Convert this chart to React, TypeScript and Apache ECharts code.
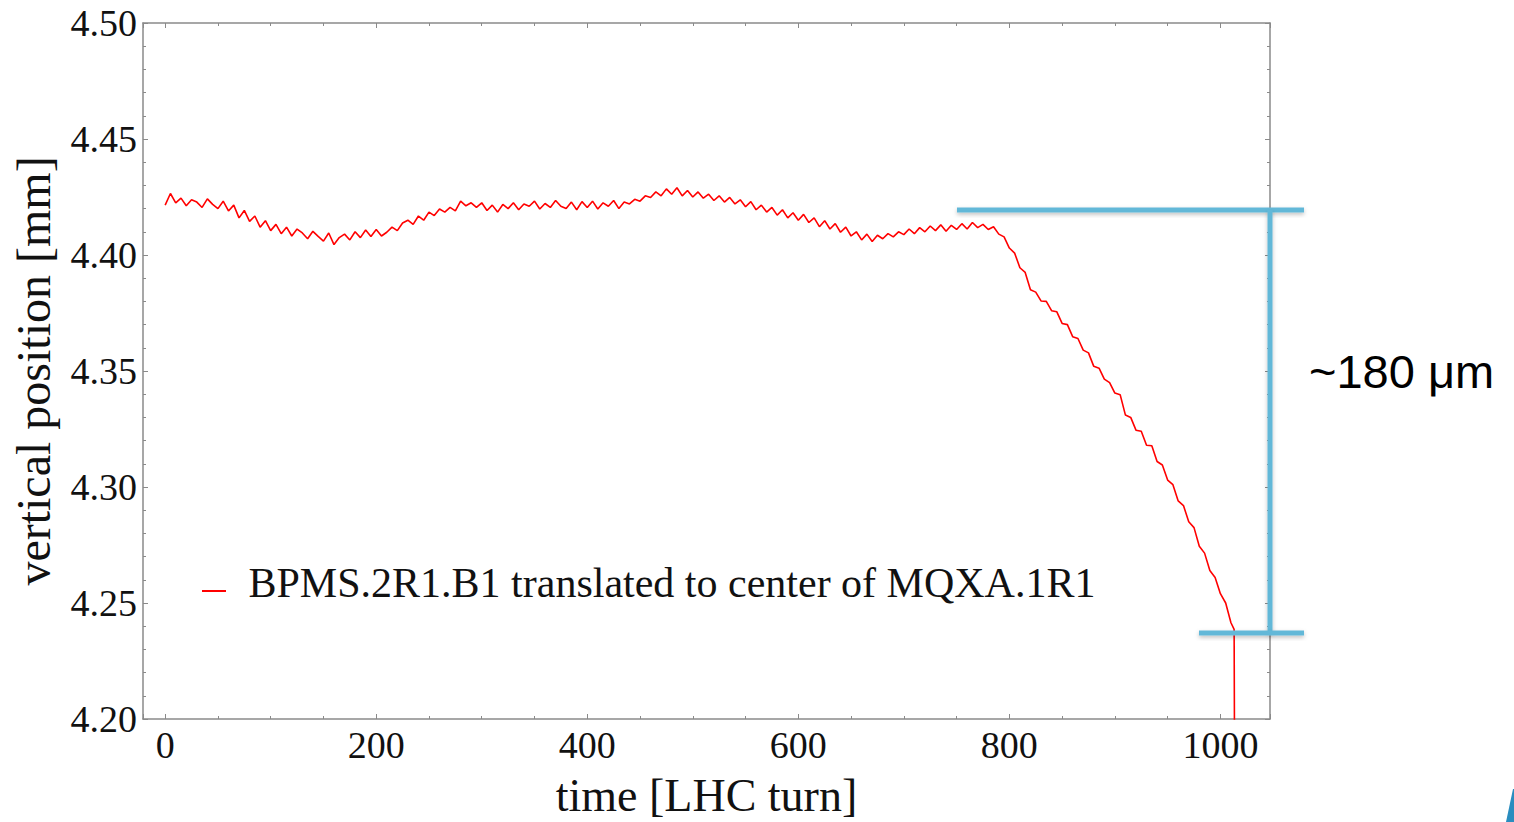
import React, { useEffect, useRef } from "react";
import * as echarts from "echarts";

const seriesName = "BPMS.2R1.B1 translated to center of MQXA.1R1";
const xTitle = "time [LHC turn]";
const yTitle = "vertical position [mm]";
const annotationText = "~180 μm";

const turns = [
  0, 5, 10, 15, 20, 25, 30, 35, 40, 45, 50, 55, 60, 65, 70, 75, 80, 85, 90, 95,
  100, 105, 110, 115, 120, 125, 130, 135, 140, 145, 150, 155, 160, 165, 170, 175, 180, 185, 190, 195,
  200, 205, 210, 215, 220, 225, 230, 235, 240, 245, 250, 255, 260, 265, 270, 275, 280, 285, 290, 295,
  300, 305, 310, 315, 320, 325, 330, 335, 340, 345, 350, 355, 360, 365, 370, 375, 380, 385, 390, 395,
  400, 405, 410, 415, 420, 425, 430, 435, 440, 445, 450, 455, 460, 465, 470, 475, 480, 485, 490, 495,
  500, 505, 510, 515, 520, 525, 530, 535, 540, 545, 550, 555, 560, 565, 570, 575, 580, 585, 590, 595,
  600, 605, 610, 615, 620, 625, 630, 635, 640, 645, 650, 655, 660, 665, 670, 675, 680, 685, 690, 695,
  700, 705, 710, 715, 720, 725, 730, 735, 740, 745, 750, 755, 760, 765, 770, 775, 780, 785, 790, 795,
  800, 805, 810, 815, 820, 825, 830, 835, 840, 845, 850, 855, 860, 865, 870, 875, 880, 885, 890, 895,
  900, 905, 910, 915, 920, 925, 930, 935, 940, 945, 950, 955, 960, 965, 970, 975, 980, 985, 990, 995,
  1000, 1005, 1010, 1013, 1014,
];

const position = [
  4.4215, 4.4265, 4.4225, 4.4245, 4.4212, 4.4238, 4.4228, 4.4205, 4.4242, 4.4218, 4.42, 4.4232, 4.419, 4.4215, 4.416, 4.4192, 4.4145, 4.4168, 4.412, 4.4148,
  4.4105, 4.4132, 4.4092, 4.412, 4.4082, 4.4112, 4.4095, 4.407, 4.4102, 4.408, 4.406, 4.4095, 4.4045, 4.4075, 4.409, 4.4065, 4.41, 4.4075, 4.4108, 4.408,
  4.411, 4.4082, 4.4098, 4.412, 4.4105, 4.4138, 4.415, 4.4132, 4.4168, 4.415, 4.4185, 4.417, 4.4198, 4.4185, 4.4205, 4.419, 4.4232, 4.4212, 4.4225, 4.4205,
  4.4225, 4.4192, 4.4215, 4.4185, 4.4218, 4.42, 4.4225, 4.4195, 4.422, 4.421, 4.4232, 4.4198, 4.4222, 4.4205, 4.4235, 4.421, 4.42, 4.4228, 4.4195, 4.423,
  4.4205, 4.4232, 4.4198, 4.4225, 4.421, 4.4235, 4.42, 4.4228, 4.422, 4.424, 4.4232, 4.4255, 4.4248, 4.4272, 4.4255, 4.4285, 4.4262, 4.429, 4.4255, 4.4278,
  4.425, 4.4272, 4.4245, 4.4262, 4.4235, 4.4255, 4.4228, 4.4248, 4.422, 4.4238, 4.4208, 4.423, 4.4195, 4.4215, 4.4185, 4.4205, 4.4172, 4.4195, 4.416, 4.4182,
  4.415, 4.4175, 4.414, 4.416, 4.4122, 4.4148, 4.4112, 4.4135, 4.4098, 4.412, 4.4082, 4.41, 4.4065, 4.409, 4.4058, 4.4085, 4.407, 4.4092, 4.4078, 4.41,
  4.4088, 4.4112, 4.4092, 4.4118, 4.41, 4.4125, 4.4105, 4.413, 4.4102, 4.4128, 4.411, 4.4135, 4.4112, 4.414, 4.4118, 4.4132, 4.411, 4.4122, 4.409, 4.4078,
  4.403, 4.4008, 4.3945, 4.3925, 4.385, 4.384, 4.3802, 4.38, 4.376, 4.3755, 4.3705, 4.37, 4.3648, 4.364, 4.359, 4.3578, 4.352, 4.3512, 4.3465, 4.345,
  4.3405, 4.3398, 4.331, 4.33, 4.3245, 4.324, 4.318, 4.3178, 4.311, 4.3095, 4.303, 4.301, 4.294, 4.292, 4.285, 4.2825, 4.2745, 4.2715, 4.264, 4.261,
  4.254, 4.25, 4.2415, 4.2386, 4.1,
];

const yTicks = ["4.20", "4.25", "4.30", "4.35", "4.40", "4.45", "4.50"];

const SERIF = "'Liberation Serif', 'Times New Roman', serif";
const AXIS_GRAY = "#8a8a8a";
const BLUE = "#62b8d8";

export default function App() {
  const ref = useRef<HTMLDivElement>(null);

  useEffect(() => {
    if (!ref.current) return;
    const chart = echarts.init(ref.current, undefined, { renderer: "svg" });
    const data = turns.map((t, i) => [t, position[i]]);
    const xMin = -21;
    const xMax = 1047;
    const yMin = Number(yTicks[0]);
    const yMax = Number(yTicks[yTicks.length - 1]);

    const baseX = {
      type: "value" as const,
      min: xMin,
      max: xMax,
      splitNumber: 5,
      splitLine: { show: false },
      axisLine: { show: true, onZero: false, lineStyle: { color: AXIS_GRAY, width: 1.5 } },
      axisTick: { show: true, inside: true, length: 5, lineStyle: { color: AXIS_GRAY, width: 1 } },
      minorTick: { show: true, splitNumber: 4, length: 3, lineStyle: { color: AXIS_GRAY, width: 1 } },
    };
    const baseY = {
      type: "value" as const,
      min: yMin,
      max: yMax,
      interval: 0.05,
      splitLine: { show: false },
      axisLine: { show: true, onZero: false, lineStyle: { color: AXIS_GRAY, width: 1.5 } },
      axisTick: { show: true, inside: true, length: 5, lineStyle: { color: AXIS_GRAY, width: 1 } },
      minorTick: { show: true, splitNumber: 5, length: 3, lineStyle: { color: AXIS_GRAY, width: 1 } },
    };

    const shadow = { shadowBlur: 4, shadowColor: "rgba(0,0,0,0.25)", shadowOffsetY: 2 };

    chart.setOption({
      animation: false,
      backgroundColor: "#ffffff",
      grid: {
        left: 143,
        top: 23,
        right: 244,
        bottom: 103,
        containLabel: false,
        outerBoundsMode: "none",
      },
      legend: {
        show: true,
        left: 197,
        top: 557,
        icon: "path://M0,16h24v2h-24zM0,0h0.05v0.05h-0.05z",
        itemWidth: 25,
        itemHeight: 18,
        data: [{ name: seriesName, itemStyle: { color: "#ff0000" } }],
        textStyle: {
          fontFamily: SERIF,
          fontSize: 42,
          color: "#111111",
          padding: [0, 0, 0, 17],
        },
      },
      xAxis: [
        {
          ...baseX,
          position: "bottom",
          name: xTitle,
          nameLocation: "middle",
          nameGap: 53,
          nameTextStyle: { fontFamily: SERIF, fontSize: 46, color: "#111111" },
          axisLabel: {
            show: true,
            margin: 7,
            fontFamily: SERIF,
            fontSize: 38,
            color: "#111111",
            formatter: (v: number) => (Math.abs(v % 200) < 1e-6 ? String(v) : ""),
          },
        },
        { ...baseX, position: "top", axisLabel: { show: false } },
      ],
      yAxis: [
        {
          ...baseY,
          position: "left",
          name: yTitle,
          nameLocation: "middle",
          nameRotate: 90,
          nameGap: 86,
          nameTextStyle: { fontFamily: SERIF, fontSize: 48, color: "#111111" },
          axisLabel: {
            show: true,
            margin: 6,
            fontFamily: SERIF,
            fontSize: 38,
            color: "#111111",
            formatter: (v: number) => v.toFixed(2),
          },
        },
        { ...baseY, position: "right", axisLabel: { show: false } },
      ],
      series: [
        {
          name: seriesName,
          type: "line",
          xAxisIndex: 0,
          yAxisIndex: 0,
          data,
          showSymbol: false,
          symbol: "none",
          clip: true,
          lineStyle: { color: "#ff0000", width: 1.6 },
          itemStyle: { color: "#ff0000" },
        },
      ],
      graphic: [
        {
          type: "rect",
          shape: { x: 957, y: 207.5, width: 347, height: 5 },
          style: { fill: BLUE, ...shadow },
          z: 100,
        },
        {
          type: "rect",
          shape: { x: 1267.5, y: 210, width: 5, height: 423 },
          style: { fill: BLUE, ...shadow },
          z: 100,
        },
        {
          type: "rect",
          shape: { x: 1199, y: 630.5, width: 105, height: 5 },
          style: { fill: BLUE, ...shadow },
          z: 100,
        },
        {
          type: "text",
          x: 1309,
          y: 371,
          style: {
            text: annotationText,
            fontFamily: "'Liberation Sans', Arial, sans-serif",
            fontSize: 47,
            fill: "#000000",
            textAlign: "left",
            textVerticalAlign: "middle",
          },
          z: 100,
        },
        {
          type: "polygon",
          shape: { points: [[1513, 789], [1506, 822], [1514, 822], [1514, 789]] },
          style: { fill: "#2a8dbf" },
          z: 100,
        },
      ],
    });

    return () => chart.dispose();
  }, []);

  return (
    <div
      ref={ref}
      style={{ position: "fixed", left: 0, top: 0, width: 1514, height: 822, background: "#fff" }}
    />
  );
}
